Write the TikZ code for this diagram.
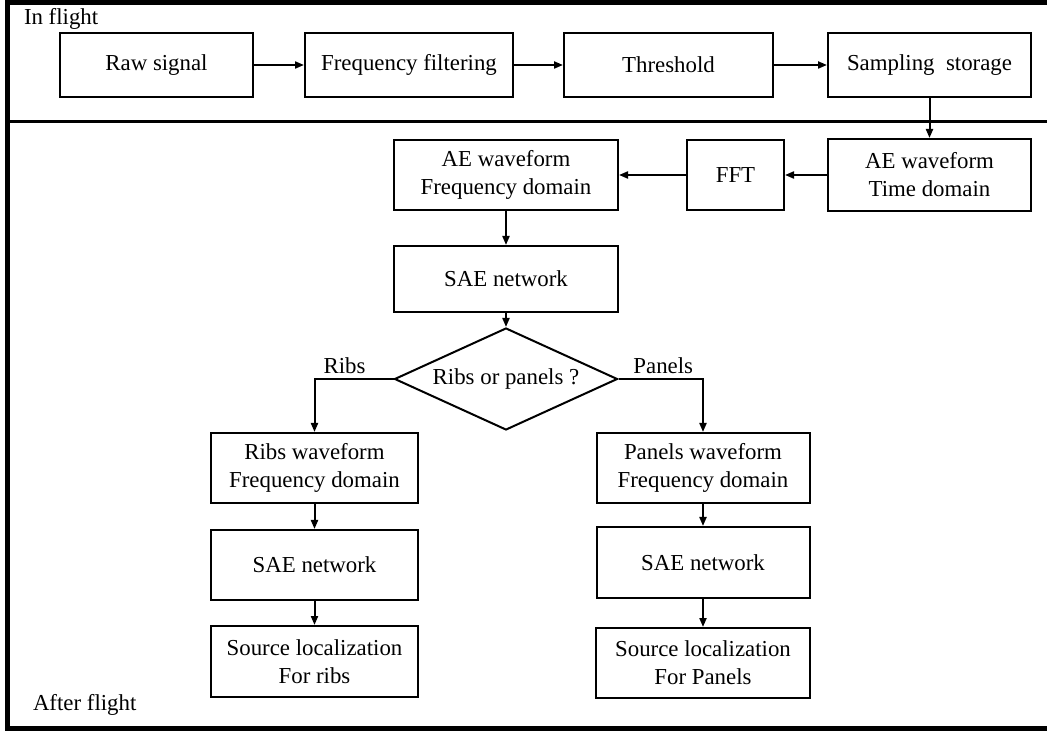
\documentclass[tikz,border=0pt]{standalone}
\usepackage{fontspec}
\setmainfont{Liberation Serif}
\usetikzlibrary{shapes, arrows.meta, positioning}
\newcommand{\pxu}{0.3mm}

\begin{document}
\begin{tikzpicture}[x=\pxu,y=-\pxu,line width=0.6mm,>={Triangle[length=2.7mm,width=2.1mm]},
    font=\fontsize{19.5}{24}\selectfont]
            \useasboundingbox (0,0) rectangle (1047,732);

            % frame and divider
            \draw[line width=1.6mm] (1047,2.5) -- (7.5,2.5) -- (7.5,728.5) -- (1047,728.5);
            \draw[line width=0.75mm] (7.5,121.3) -- (1047,121.3);
            \node[anchor=base west,inner sep=0] (inflight) at (23,25) {In flight};
            \node[anchor=base west,inner sep=0] (afterflight) at (32,710) {After flight};

            \begin{scope}[shape=rectangle]
            \tikzstyle{every node}=[draw,align=center,inner sep=0,minimum height=70*\pxu]

            \node[minimum width=193*\pxu,minimum height=64*\pxu] (raw) at (156.5,65) {Raw signal};
            \node[minimum width=208*\pxu,minimum height=64*\pxu] (filt) at (409,65) {Frequency filtering};
            \node[minimum width=209*\pxu,minimum height=64*\pxu] (thr) at (668.5,65) {Threshold};
            \node[minimum width=203*\pxu,minimum height=64*\pxu] (samp) at (929.5,65) {Sampling\ \ storage};

            \node[minimum width=203*\pxu,minimum height=72*\pxu] (aet) at (929.5,175) {AE waveform\\Time domain};
            \node[minimum width=97*\pxu] (fft) at (735.5,175) {FFT};
            \node[minimum width=224*\pxu] (aef) at (506,175) {AE waveform\\Frequency domain};

            \node[minimum width=224*\pxu,minimum height=66*\pxu] (sae) at (506,279) {SAE network};
            \node[shape=diamond,aspect=2.2,minimum width=223*\pxu,minimum height=102*\pxu] (dec) at (506,379) {Ribs or panels ?};

            \node[minimum width=207*\pxu] (rwf) at (314.5,468) {Ribs waveform\\Frequency domain};
            \node[minimum width=207*\pxu] (rsae) at (314.5,565) {SAE network};
            \node[minimum width=207*\pxu,minimum height=71*\pxu] (rsrc) at (314.5,661.5) {Source localization\\For ribs};

            \node[minimum width=213*\pxu] (pwf) at (703,468) {Panels waveform\\Frequency domain};
            \node[minimum width=213*\pxu,minimum height=71*\pxu] (psae) at (703,562.5) {SAE network};
            \node[minimum width=214*\pxu] (psrc) at (703,663) {Source localization\\For Panels};

            \draw [->] (raw) -- (filt);
            \draw [->] (filt) -- (thr);
            \draw [->] (thr) -- (samp);
            \draw [->] (samp) -- (aet);
            \draw [->] (aet) -- (fft);
            \draw [->] (fft) -- (aef);
            \draw [->] (aef) -- (sae);
            \draw [->] (sae) -- (dec);

            \draw [->] (dec.west) -| node[draw=none,minimum height=0pt,above,inner sep=4pt,pos=0.31] (lribs) {Ribs} (rwf);
            \draw [->] (dec.east) -| node[draw=none,minimum height=0pt,above,inner sep=4pt,pos=0.265] (lpanels) {Panels} (pwf);

            \draw [->] (rwf) -- (rsae);
            \draw [->] (rsae) -- (rsrc);
            \draw [->] (pwf) -- (psae);
            \draw [->] (psae) -- (psrc);
            \end{scope}
        \end{tikzpicture}
\end{document}
